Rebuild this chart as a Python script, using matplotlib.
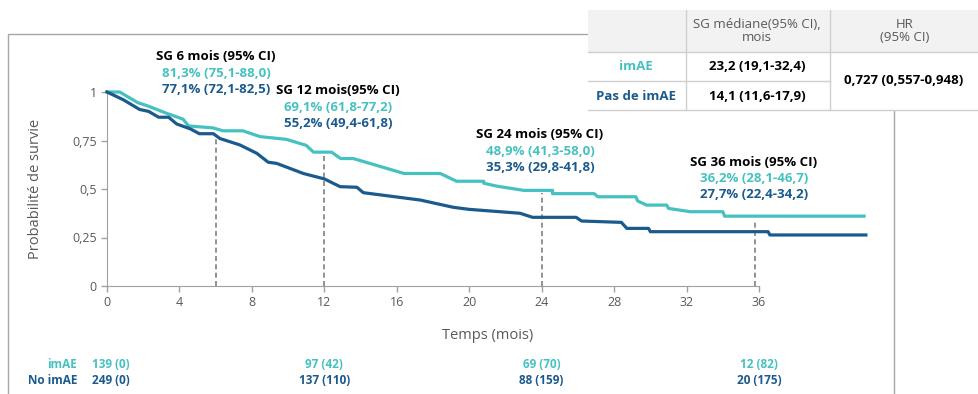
import matplotlib.pyplot as plt
from matplotlib.lines import Line2D
from matplotlib.patches import Rectangle
from matplotlib.transforms import blended_transform_factory

plt.rcParams["font.family"] = ["Open Sans", "DejaVu Sans"]

TEAL = "#45c1c1"
NAVY = "#1b5a8c"
GRAY = "#595959"

# Kaplan-Meier curves
imae_time = [0, 0.7, 1.7, 2.2, 3.3, 4.2, 4.5, 5.85, 6.4, 7.5, 8.45, 9.9, 11.0,
             11.4, 12.4, 12.9, 13.6, 16.4, 18.4, 19.3, 20.8, 20.8, 21.5, 23.0,
             24.6, 24.6, 26.9, 27.1, 29.2, 29.3, 29.8, 30.9, 31.0, 32.2, 34.0,
             34.1, 41.8]
imae_surv = [1.0, 1.0, 0.945, 0.93, 0.89, 0.86, 0.825, 0.815, 0.80, 0.80,
             0.77, 0.756, 0.725, 0.69, 0.69, 0.657, 0.657, 0.58, 0.58, 0.54,
             0.54, 0.53, 0.515, 0.493, 0.493, 0.476, 0.476, 0.46, 0.46, 0.438,
             0.417, 0.417, 0.40, 0.383, 0.383, 0.36, 0.36]

noimae_time = [0, 0.9, 1.8, 2.3, 2.85, 3.4, 3.85, 4.6, 5.1, 5.87, 6.24, 7.34,
               8.27, 8.9, 9.37, 10.84, 12.0, 12.87, 13.8, 14.15, 15.4, 17.3,
               19.1, 20.0, 22.8, 23.5, 25.9, 26.2, 28.4, 28.7, 29.9, 30.0,
               36.5, 36.6, 41.9]
noimae_surv = [1.0, 0.96, 0.91, 0.90, 0.87, 0.87, 0.835, 0.81, 0.785, 0.785,
               0.76, 0.727, 0.684, 0.638, 0.632, 0.58, 0.552, 0.512, 0.509,
               0.481, 0.466, 0.443, 0.406, 0.395, 0.375, 0.354, 0.354, 0.335,
               0.328, 0.297, 0.297, 0.28, 0.28, 0.263, 0.263]

# landmark survival
landmark_months = [6, 12, 24, 35.8]
landmark_titles = ["SG 6 mois (95% CI)", "SG 12 mois(95% CI)",
                   "SG 24 mois (95% CI)", "SG 36 mois (95% CI)"]
landmark_imae = ["81,3% (75,1-88,0)", "69,1% (61,8-77,2)",
                 "48,9% (41,3-58,0)", "36,2% (28,1-46,7)"]
landmark_noimae = ["77,1% (72,1-82,5)", "55,2% (49,4-61,8)",
                   "35,3% (29,8-41,8)", "27,7% (22,4-34,2)"]
landmark_line_top = [0.77, 0.69, 0.48, 0.33]

# number at risk (censored)
risk_months = [0, 12, 24, 36]
risk_imae = ["139 (0)", "97 (42)", "69 (70)", "12 (82)"]
risk_noimae = ["249 (0)", "137 (110)", "88 (159)", "20 (175)"]

x_ticks = [0, 4, 8, 12, 16, 20, 24, 28, 32, 36]
y_ticks = [0, 0.25, 0.5, 0.75, 1]
y_tick_labels = ["0", "0,25", "0,5", "0,75", "1"]

W, H = 979, 394


def fx(px):
    return px / W


def fy(py):
    return 1 - py / H


fig = plt.figure(figsize=(W / 100, H / 100), dpi=100)
ax = fig.add_axes([fx(107), fy(286), 760.7 / W, 194 / H])

# outer frame
fig.add_artist(Rectangle((fx(8), -0.05), fx(894) - fx(8), fy(34) + 0.05,
                         transform=fig.transFigure, fill=False,
                         edgecolor="#a6a6a6", lw=1.0, zorder=0))

ax.plot(imae_time, imae_surv, color=TEAL, lw=2.3, clip_on=False, zorder=3)
ax.plot(noimae_time, noimae_surv, color=NAVY, lw=2.3, clip_on=False, zorder=3)

for m, top in zip(landmark_months, landmark_line_top):
    ax.plot([m, m], [0, top], color="#7f7f7f", lw=1.2, ls=(0, (3, 2)),
            zorder=2)

ax.set_xlim(0, 42)
ax.set_ylim(0, 1)
ax.set_xticks(x_ticks)
ax.set_yticks(y_ticks)
ax.set_yticklabels(y_tick_labels)
ax.tick_params(colors="#a0a0a0", labelcolor=GRAY, labelsize=9, length=4,
               width=1)
for side in ["top", "right"]:
    ax.spines[side].set_visible(False)
for side in ["left", "bottom"]:
    ax.spines[side].set_color("#a0a0a0")
ax.spines["bottom"].set_bounds(0, 36)
ax.set_facecolor("none")

ax.set_ylabel("Probabilité de survie", fontsize=10.5, color=GRAY)
ax.yaxis.set_label_coords(-(107 - 43) / 760.7, 0.5)
ax.set_xlabel("Temps (mois)", fontsize=10.5, color=GRAY)
ax.xaxis.set_label_coords(0.5, -(328 - 286) / 194)

# landmark annotations (pixel layout)
title_px = [(216, 57), (338, 91), (540, 135), (754, 162)]
for (px, py), title, a, b in zip(title_px, landmark_titles, landmark_imae,
                                 landmark_noimae):
    fig.text(fx(px), fy(py), title, ha="center", va="center", fontsize=9.5,
             fontweight="bold", color="black")
    fig.text(fx(px), fy(py + 16.5), a, ha="center", va="center",
             fontsize=9.5, fontweight="bold", color=TEAL)
    fig.text(fx(px), fy(py + 32.5), b, ha="center", va="center",
             fontsize=9.5, fontweight="bold", color=NAVY)

# number at risk table
tr = blended_transform_factory(ax.transData, fig.transFigure)
fig.text(fx(77), fy(364), "imAE", ha="right", va="center", fontsize=8.5,
         fontweight="bold", color=TEAL)
fig.text(fx(77), fy(381), "No imAE", ha="right", va="center", fontsize=8.5,
         fontweight="bold", color=NAVY)
for m, a, b in zip(risk_months, risk_imae, risk_noimae):
    off = 0.2 if m == 0 else 0
    ax.text(m + off, fy(364), a, transform=tr, ha="center", va="center",
            fontsize=8.5, fontweight="bold", color=TEAL)
    ax.text(m + off, fy(381), b, transform=tr, ha="center", va="center",
            fontsize=8.5, fontweight="bold", color=NAVY)

# summary table top right
fig.add_artist(Rectangle((fx(588), fy(110)), fx(979) - fx(588),
                         fy(10) - fy(110), transform=fig.transFigure,
                         facecolor="white", edgecolor="none", zorder=4))
fig.add_artist(Rectangle((fx(588), fy(52)), fx(979) - fx(588),
                         fy(10) - fy(52), transform=fig.transFigure,
                         facecolor="#f2f2f2", edgecolor="none", zorder=4))
grid = "#cfcfcf"
for y0, x1 in [(52, 979), (81, 830), (110, 979)]:
    fig.add_artist(Line2D([fx(588), fx(x1)], [fy(y0), fy(y0)], color=grid,
                          lw=1, transform=fig.transFigure, zorder=5))
for x0 in [686, 830]:
    fig.add_artist(Line2D([fx(x0), fx(x0)], [fy(10), fy(110)], color=grid,
                          lw=1, transform=fig.transFigure, zorder=5))

fig.text(fx(757), fy(31), "SG médiane(95% CI),\nmois", ha="center",
         va="center", fontsize=9.5, color=GRAY, zorder=6, linespacing=1.0)
fig.text(fx(905), fy(31), "HR\n(95% CI)", ha="center", va="center",
         fontsize=9.5, color=GRAY, zorder=6, linespacing=1.0)
fig.text(fx(636), fy(67), "imAE", ha="center", va="center", fontsize=9.5,
         fontweight="bold", color=TEAL, zorder=6)
fig.text(fx(636), fy(96), "Pas de imAE", ha="center", va="center",
         fontsize=9.5, fontweight="bold", color=NAVY, zorder=6)
fig.text(fx(757), fy(67), "23,2 (19,1-32,4)", ha="center", va="center",
         fontsize=9.5, fontweight="bold", color="black", zorder=6)
fig.text(fx(757), fy(96), "14,1 (11,6-17,9)", ha="center", va="center",
         fontsize=9.5, fontweight="bold", color="black", zorder=6)
fig.text(fx(904), fy(81), "0,727 (0,557-0,948)", ha="center", va="center",
         fontsize=9.5, fontweight="bold", color="black", zorder=6)

fig.savefig("out.png", dpi=100)
